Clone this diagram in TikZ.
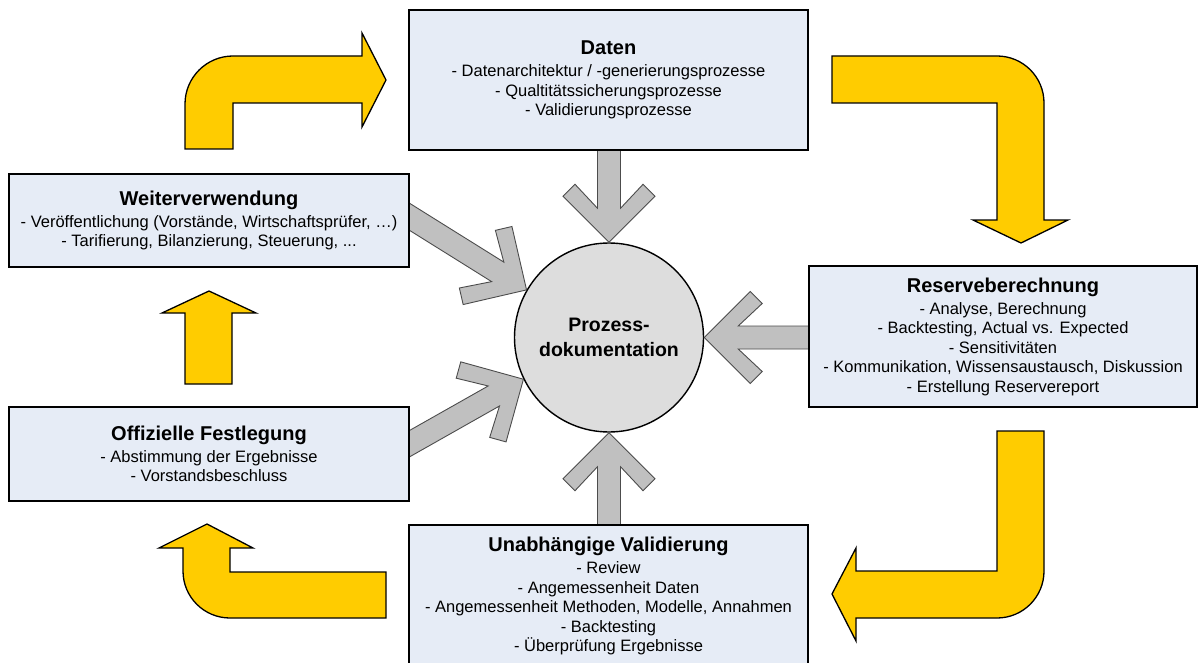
\documentclass[tikz,border=0pt]{standalone}
\usepackage{fontspec}
\setmainfont{Liberation Sans}
\usepackage{xcolor}
\definecolor{BoxCol}{RGB}{230,236,246}
\definecolor{YelCol}{RGB}{255,204,0}
\definecolor{GreyCol}{RGB}{192,192,192}
\definecolor{DokuCol}{RGB}{221,221,221}
\usepackage{tikz}
\tikzstyle{Box}=[rectangle,draw=black,line width=1.6pt,fill=BoxCol,
align=center,inner sep=2pt,font=\fontsize{16.5}{19.5}\selectfont]
\tikzstyle{Doku}=[circle,draw=black,line width=1.4pt,fill=DokuCol,
minimum size=189pt,align=center,font=\fontsize{19.5}{24.5}\selectfont\bfseries]
\tikzstyle{Bend}=[draw=black,line width=1.3pt,fill=YelCol,line join=miter]
\tikzstyle{FeedEdge}=[draw=black!70,line width=0.9pt,fill=GreyCol]
\tikzset{Feed/.pic={
    \path[FeedEdge] (0,0) -- (-46,46) -- (-58,34) -- (-34,11.5)
        -- (-#1,11.5) -- (-#1,-11.5) -- (-34,-11.5) -- (-58,-34)
        -- (-46,-46) -- cycle;}}
\newcommand{\BoxTitle}[1]{{\fontsize{20}{22}\selectfont\bfseries #1}}

\begin{document}
\begin{tikzpicture}[x=1pt,y=-1pt]
    \useasboundingbox (0,0) rectangle (1204,663);
    \node[Doku](doku)at(609,337.5){Prozess-\\dokumentation};
    % grey arrows into the centre
    \pic[rotate=-90] at (doku.north) {Feed=103};
    \pic[rotate=180] at (doku.east) {Feed=115};
    \pic[rotate=90] at (doku.south) {Feed=104};
    \pic[rotate=-32] at (doku.150) {Feed=150};
    \pic[rotate=29.5] at (doku.206) {Feed=145};
    % yellow cycle
    \path[Bend] (185,149) -- (185,104) .. controls (185,77.5) and (206.5,56)
        .. (233,56) -- (362,56) -- (362,33) -- (386,80) -- (362,127)
        -- (362,103) -- (233,103) -- (233,149) -- cycle;
    \path[Bend] (832,56) -- (997,56) .. controls (1023,56) and (1044,77)
        .. (1044,103) -- (1044,220) -- (1068,220) -- (1021,243)
        -- (973,220) -- (997,220) -- (997,103) -- (832,103) -- cycle;
    \path[Bend] (997,431) -- (1044,431) -- (1044,571) .. controls (1044,597)
        and (1023,618) .. (997,618) -- (856,618) -- (856,641) -- (832,594)
        -- (856,548) -- (856,571) -- (997,571) -- cycle;
    \path[Bend] (230,572) -- (386,572) -- (386,618) -- (230,618)
        .. controls (204,618) and (183,597) .. (183,571) -- (183,548)
        -- (159,548) -- (207,524) -- (253,548) -- (230,548) -- cycle;
    \path[Bend] (185,384) -- (185,313) -- (162,313) -- (209,291)
        -- (256,313) -- (232,313) -- (232,384) -- cycle;
    % boxes
    \node[Box,minimum width=399pt,minimum height=140pt](daten)at(608.5,80)
        {\BoxTitle{Daten}\\[2.5pt]
        - Datenarchitektur / -generierungsprozesse\\
        - Qualtitätssicherungsprozesse\\
        - Validierungsprozesse};
    \node[Box,minimum width=388pt,minimum height=141pt](reserve)at(1003,336.5)
        {\BoxTitle{Reserveberechnung}\\[2.5pt]
        - Analyse, Berechnung\\
        - Backtesting, Actual vs. Expected\\
        - Sensitivitäten\\
        - Kommunikation, Wissensaustausch, Diskussion\\
        - Erstellung Reservereport};
    \node[Box,minimum width=399pt,minimum height=142pt](valid)at(608.5,596)
        {\BoxTitle{Unabhängige Validierung}\\[2.5pt]
        - Review\\
        - Angemessenheit Daten\\
        - Angemessenheit Methoden, Modelle, Annahmen\\
        - Backtesting\\
        - Überprüfung Ergebnisse};
    \node[Box,minimum width=400pt,minimum height=94pt](fest)at(209,454)
        {\BoxTitle{Offizielle Festlegung}\\[2.5pt]
        - Abstimmung der Ergebnisse\\
        - Vorstandsbeschluss};
    \node[Box,minimum width=400pt,minimum height=93pt](weiter)at(209,220.5)
        {\BoxTitle{Weiterverwendung}\\[2.5pt]
        - Veröffentlichung (Vorstände, Wirtschaftsprüfer, …)\\
        - Tarifierung, Bilanzierung, Steuerung, ...};
\end{tikzpicture}
\end{document}
